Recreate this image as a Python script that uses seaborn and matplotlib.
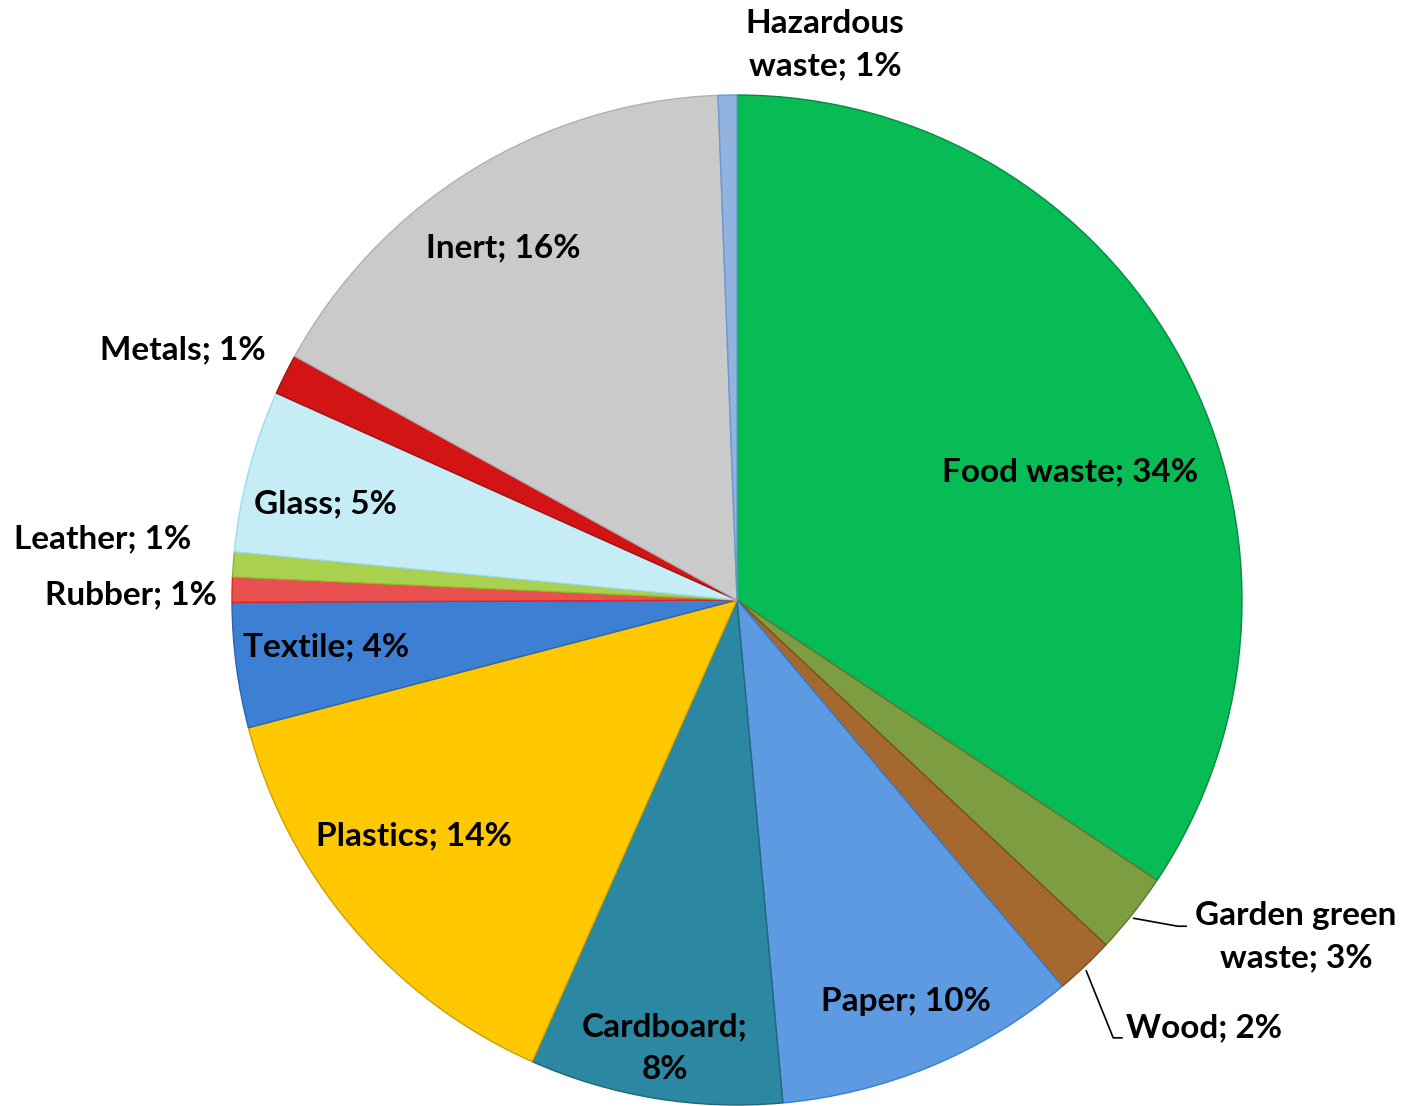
import matplotlib
matplotlib.use("Agg")
import colorsys
import matplotlib.pyplot as plt
import matplotlib.colors as mcolors
import seaborn as sns

# Municipal solid waste composition (share of total, %)
categories = ["Food waste", "Garden green\nwaste", "Wood", "Paper", "Cardboard;\n", "Plastics",
              "Textile", "Rubber", "Leather", "Glass", "Metals", "Inert", "Hazardous\nwaste"]
shares = [34.4, 2.6, 1.9, 9.7, 8.1, 14.3, 4.0, 0.8, 0.8, 5.2, 1.3, 16.4, 0.6]
colors = ["#07BB55", "#7C9D40", "#A5682E", "#5D9AE2", "#2C87A2", "#FFC800",
          "#3C7FD3", "#E8514F", "#A9D04E", "#C6ECF6", "#D31414", "#CACACA", "#92B2DF"]

# Label anchor positions (in pie-radius units) and horizontal alignment
label_xy = [(0.659, 0.253), (1.107, -0.667), (0.925, -0.848), (0.335, -0.796),
            (-0.143, -0.887), (-0.640, -0.467), (-0.814, -0.093), (-1.030, 0.010),
            (-1.081, 0.121), (-0.814, 0.190), (-0.933, 0.495), (-0.463, 0.697),
            (0.174, 1.099)]
label_ha = ["center"] * 7 + ["right", "right", "center", "right", "center", "center"]

# Leader lines for labels placed outside the pie (radius units)
leaders = [
    [(0.784, -0.630), (0.873, -0.646), (0.891, -0.646)],
    [(0.691, -0.733), (0.745, -0.867), (0.764, -0.867)],
    [(-1.006, 0.073), (-1.042, 0.101), (-1.065, 0.101)],
    [(-0.020, 1.002), (-0.020, 1.031), (0.010, 1.031)],
]


def shade(c, amount):
    h, l, s = colorsys.rgb_to_hls(*mcolors.to_rgb(c))
    return colorsys.hls_to_rgb(h, max(0.0, min(1.0, l + amount)), s)


sns.set_theme(style="white")
plt.rcParams["font.family"] = ["Lato", "DejaVu Sans"]

fig = plt.figure(figsize=(14.06, 11.06), dpi=100)
W, H = 1406, 1106
cx, cy, r = 737, 600, 505
ax = fig.add_axes([(cx - r) / W, (H - cy - r) / H, 2 * r / W, 2 * r / H])

wedges, _ = ax.pie(shares, colors=colors, startangle=90, counterclock=False,
                   radius=1.0, center=(0, 0), wedgeprops=dict(linewidth=1.0))
for w, c in zip(wedges, colors):
    w.set_edgecolor(shade(c, -0.10))

for i, (name, v) in enumerate(zip(categories, shares)):
    pct = f"{round(v):d}%"
    text = f"{name}{pct}" if name.endswith(";\n") else f"{name}; {pct}"
    x, y = label_xy[i]
    ax.text(x, y, text, ha=label_ha[i], va="center", fontsize=24, fontweight="bold",
            color="black", linespacing=1.55, multialignment="center")

for pts in leaders:
    xs, ys = zip(*pts)
    ax.plot(xs, ys, color="black", lw=1.2, solid_capstyle="butt")

ax.set_xlim(-1, 1)
ax.set_ylim(-1, 1)
ax.set_aspect("equal")
ax.axis("off")
fig.savefig("out.png", dpi=100)
